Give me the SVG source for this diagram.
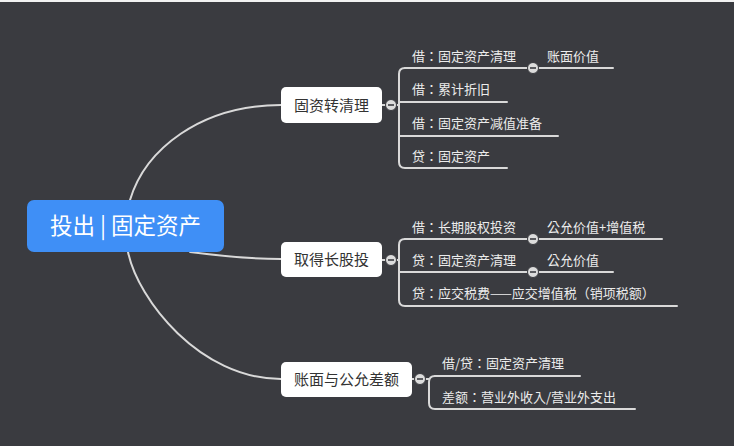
<svg xmlns="http://www.w3.org/2000/svg" width="734" height="446" viewBox="0 0 734 446">
<style>
.bg{fill:#3a3b40}
.ln{fill:none;stroke:#d9d9d9;stroke-width:2;stroke-linecap:round}
.node rect{fill:#ffffff}
.nt{font-family:"Noto Sans CJK SC","Liberation Sans",sans-serif;font-size:15px;fill:#333333;text-anchor:middle}
.lt{font-family:"Noto Sans CJK TC","Noto Sans CJK SC","Liberation Sans",sans-serif;font-size:13px;fill:#ececec}
.rt{font-family:"Noto Sans CJK SC","Liberation Sans",sans-serif;font-size:22.5px;fill:#ffffff;text-anchor:middle}
.cc{fill:#dcdcdc;stroke:#3a3b40;stroke-width:1}
.cd{stroke:#3a3b40;stroke-width:1.6}
</style>
<defs>
<g id="col"><circle r="5.5" class="cc"/><line x1="-3" y1="0" x2="3" y2="0" class="cd"/></g>
</defs>
<rect class="bg" x="0" y="0" width="734" height="446"/>
<rect x="0" y="0" width="734" height="2" fill="#f2f2f2"/>
<g id="connectors">
<path class="ln" d="M130,200 C145,150 200,105 281,105"/>
<path class="ln" d="M190,252 C220,256 250,259 281,259"/>
<path class="ln" d="M128,252 C138,300 200,379 281,379"/>
<path class="ln" d="M382,105 L399,105"/>
<path class="ln" d="M405,68 Q399,68 399,74 L399,162 Q399,168 405,168 L507,168"/>
<path class="ln" d="M405,68 L613,68"/>
<path class="ln" d="M399,102 L507,102"/>
<path class="ln" d="M399,136 L558,136"/>
<path class="ln" d="M382,260 L399,260"/>
<path class="ln" d="M405,239 Q399,239 399,245 L399,300 Q399,306 405,306 L677,306"/>
<path class="ln" d="M405,239 L662,239"/>
<path class="ln" d="M399,272 L613,272"/>
<path class="ln" d="M412,379 L429,379"/>
<path class="ln" d="M435,376 Q429,376 429,382 L429,403 Q429,409 435,409 L635,409"/>
<path class="ln" d="M435,376 L580,376"/>
</g>
<g id="root">
<rect x="27" y="200" width="197" height="52" rx="7" fill="#3f8ff6"/>
<text class="rt" x="125.5" y="234">投出 | 固定资产</text>
</g>
<g id="n1" class="node">
<rect x="281" y="87" width="101" height="36" rx="5"/>
<text class="nt" x="331.5" y="110.5">固资转清理</text>
<use href="#col" x="391" y="105"/>
</g>
<g id="n2" class="node">
<rect x="281" y="242" width="101" height="35" rx="5"/>
<text class="nt" x="331.5" y="265">取得长股投</text>
<use href="#col" x="391" y="260"/>
</g>
<g id="n3" class="node">
<rect x="281" y="362" width="131" height="35" rx="5"/>
<text class="nt" x="346.5" y="385">账面与公允差额</text>
<use href="#col" x="420" y="379"/>
</g>
<g id="n1a"><text class="lt" x="412" y="61">借：固定资产清理</text><use href="#col" x="533" y="68"/></g>
<g id="n1a1"><text class="lt" x="547" y="61">账面价值</text></g>
<g id="n1b"><text class="lt" x="412" y="94">借：累计折旧</text></g>
<g id="n1c"><text class="lt" x="412" y="128">借：固定资产减值准备</text></g>
<g id="n1d"><text class="lt" x="412" y="161">贷：固定资产</text></g>
<g id="n2a"><text class="lt" x="412" y="232">借：长期股权投资</text><use href="#col" x="533" y="239"/></g>
<g id="n2a1"><text class="lt" x="547" y="232">公允价值+增值税</text></g>
<g id="n2b"><text class="lt" x="412" y="265">贷：固定资产清理</text><use href="#col" x="533" y="272"/></g>
<g id="n2b1"><text class="lt" x="547" y="265">公允价值</text></g>
<g id="n2c"><text class="lt" x="412" y="298">贷：应交税费——应交增值税（销项税额）</text></g>
<g id="n3a"><text class="lt" x="442" y="368">借/贷：固定资产清理</text></g>
<g id="n3b"><text class="lt" x="442" y="402">差额：营业外收入/营业外支出</text></g>
</svg>
